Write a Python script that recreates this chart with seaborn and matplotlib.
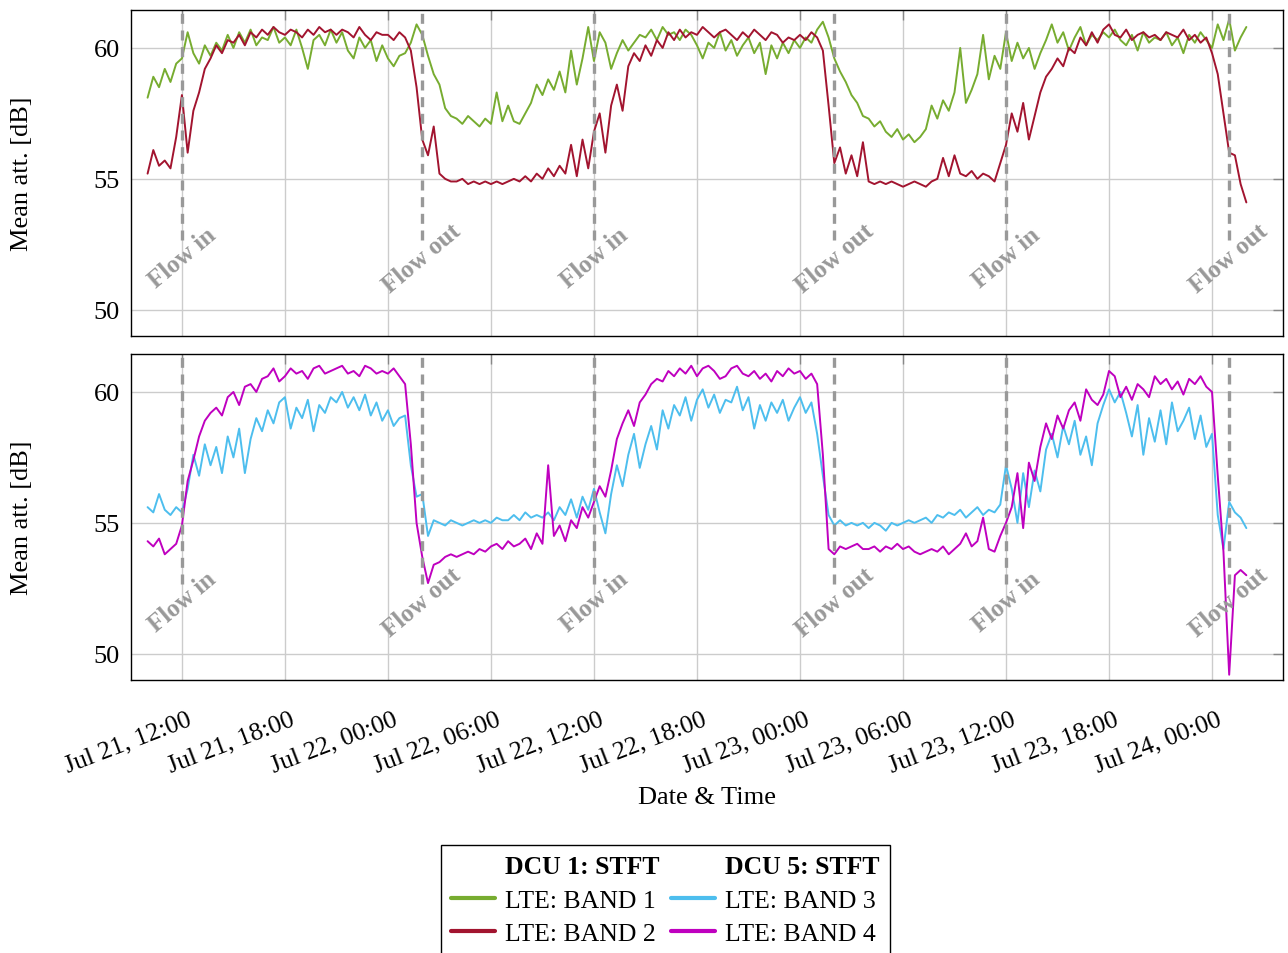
import pandas as pd
import matplotlib.pyplot as plt
import matplotlib.dates as mdates
import matplotlib.transforms as mtransforms
from matplotlib.lines import Line2D
import seaborn as sns

# time axis: one sample every 20 min, Jul 21 10:00 -> Jul 24 02:00
start = '2023-07-21 10:00'
step = '20min'

# DCU 1 (top panel), 3 per hour
band1 = [
    58.1, 58.9, 58.5, 59.2, 58.7, 59.4, 59.6, 60.6, 59.8, 59.4, 60.1, 59.7,  # Jul 21 10-13
    60.2, 59.9, 60.5, 60.0, 60.6, 60.2, 60.7, 60.1, 60.4, 60.3, 60.8, 60.2,  # 14-17
    60.4, 60.1, 60.7, 60.0, 59.2, 60.3, 60.5, 60.1, 60.7, 60.2, 60.6, 59.9,  # 18-21
    59.6, 60.4, 60.0, 60.3, 59.5, 60.1, 59.6, 59.3, 59.7, 59.8, 60.2, 60.9,  # 22-Jul 22 01
    60.5, 59.7, 59.0, 58.6, 57.7, 57.4, 57.3, 57.1, 57.4, 57.2, 57.0, 57.3,  # 02-05
    57.1, 58.3, 57.2, 57.8, 57.2, 57.1, 57.5, 57.9, 58.6, 58.2, 58.8, 58.4,  # 06-09
    59.1, 58.3, 59.9, 58.6, 59.6, 60.8, 59.5, 60.6, 60.2, 59.2, 59.8, 60.3,  # 10-13
    59.9, 60.2, 60.5, 60.4, 60.7, 60.3, 60.8, 60.5, 60.6, 60.3, 60.7, 60.5,  # 14-17
    60.1, 59.6, 60.2, 60.0, 60.6, 59.9, 60.3, 59.7, 60.1, 60.4, 59.8, 60.2,  # 18-21
    59.0, 60.1, 59.6, 60.2, 59.8, 60.3, 60.0, 60.4, 60.2, 60.7, 61.0, 60.4,  # 22-Jul 23 01
    59.6, 59.1, 58.7, 58.2, 57.9, 57.4, 57.3, 57.0, 57.2, 56.8, 56.6, 56.9,  # 02-05
    56.5, 56.7, 56.4, 56.6, 56.9, 57.8, 57.3, 58.0, 57.6, 58.3, 60.0, 57.9,  # 06-09
    58.4, 59.0, 60.5, 58.8, 59.7, 59.2, 60.6, 59.5, 60.2, 59.6, 60.0, 59.2,  # 10-13
    59.8, 60.3, 60.9, 60.2, 60.6, 59.9, 60.4, 60.8, 60.1, 60.5, 60.3, 60.6,  # 14-17
    60.4, 60.7, 60.3, 60.1, 60.5, 59.9, 60.6, 60.2, 60.4, 60.3, 60.6, 60.1,  # 18-21
    60.4, 59.8, 60.5, 60.2, 60.6, 60.3, 60.0, 60.9, 60.3, 61.1, 59.9, 60.4,  # 22-Jul 24 01
    60.8,
]
band2 = [
    55.2, 56.1, 55.5, 55.7, 55.4, 56.6, 58.2, 56.0, 57.6, 58.3, 59.2, 59.6,
    60.1, 59.8, 60.3, 60.2, 60.5, 60.1, 60.6, 60.4, 60.7, 60.5, 60.8, 60.6,
    60.5, 60.7, 60.6, 60.4, 60.7, 60.5, 60.8, 60.6, 60.7, 60.5, 60.7, 60.6,
    60.4, 60.8, 60.5, 60.3, 60.6, 60.5, 60.5, 60.3, 60.6, 60.4, 59.9, 58.5,
    56.5, 55.9, 57.0, 55.2, 55.0, 54.9, 54.9, 55.0, 54.8, 54.9, 54.8, 54.9,
    54.8, 54.9, 54.8, 54.9, 55.0, 54.9, 55.1, 54.9, 55.2, 55.0, 55.4, 55.1,
    55.5, 55.2, 56.3, 55.1, 56.5, 55.4, 56.8, 57.5, 56.0, 57.8, 58.6, 57.6,
    59.3, 59.8, 59.5, 60.1, 59.7, 60.3, 60.0, 60.6, 60.3, 60.7, 60.4, 60.6,
    60.5, 60.8, 60.6, 60.4, 60.6, 60.7, 60.5, 60.3, 60.6, 60.4, 60.7, 60.5,
    60.3, 60.6, 60.5, 60.2, 60.4, 60.3, 60.5, 60.3, 60.6, 60.4, 59.9, 57.8,
    55.6, 56.2, 55.2, 55.9, 55.1, 56.4, 54.9, 54.8, 54.9, 54.8, 54.9, 54.8,
    54.7, 54.8, 54.9, 54.8, 54.7, 54.9, 55.0, 55.8, 55.1, 55.9, 55.2, 55.1,
    55.3, 55.0, 55.2, 55.1, 54.9, 55.6, 56.3, 57.5, 56.8, 57.9, 56.5, 57.4,
    58.3, 58.9, 59.2, 59.6, 59.3, 60.0, 59.8, 60.4, 60.1, 60.6, 60.2, 60.7,
    60.9, 60.5, 60.4, 60.7, 60.3, 60.5, 60.6, 60.4, 60.5, 60.3, 60.6, 60.5,
    60.4, 60.7, 60.3, 60.5, 60.2, 60.4, 59.8, 59.0, 57.5, 56.0, 55.9, 54.8,
    54.1,
]

# DCU 5 (bottom panel)
band3 = [
    55.6, 55.4, 56.1, 55.5, 55.3, 55.6, 55.4, 56.3, 57.6, 56.8, 58.0, 57.2,
    57.9, 56.9, 58.3, 57.5, 58.6, 56.9, 58.2, 59.0, 58.5, 59.3, 58.8, 59.6,
    59.8, 58.6, 59.4, 59.0, 59.7, 58.5, 59.5, 59.2, 59.8, 59.6, 60.0, 59.4,
    59.8, 59.3, 59.9, 59.1, 59.6, 58.9, 59.3, 58.7, 59.0, 59.1, 57.2, 56.0,
    56.1, 54.5, 55.1, 55.0, 54.9, 55.1, 55.0, 54.9, 55.0, 55.1, 55.0, 55.1,
    55.0, 55.2, 55.1, 55.1, 55.3, 55.1, 55.4, 55.2, 55.3, 55.2, 55.4, 55.1,
    55.6, 55.3, 55.9, 55.2, 56.0, 55.5, 56.3, 55.4, 54.6, 56.1, 57.2, 56.4,
    57.6, 58.4, 57.1, 58.0, 58.7, 57.8, 59.3, 58.6, 59.5, 59.1, 59.8, 58.9,
    59.7, 60.1, 59.4, 59.9, 59.2, 59.7, 59.6, 60.2, 59.3, 59.8, 58.6, 59.5,
    58.9, 59.6, 59.2, 59.7, 58.9, 59.4, 59.8, 59.2, 59.6, 58.4, 56.8, 55.3,
    54.9, 55.1, 54.9, 55.0, 54.9, 55.0, 54.8, 55.0, 54.9, 54.7, 55.0, 54.9,
    55.0, 55.1, 55.0, 55.1, 55.2, 55.0, 55.3, 55.2, 55.4, 55.3, 55.5, 55.2,
    55.4, 55.6, 55.3, 55.5, 55.4, 55.7, 57.2, 56.3, 55.0, 56.9, 55.6, 57.0,
    56.2, 57.8, 58.4, 57.5, 58.7, 58.0, 58.9, 57.6, 58.3, 57.2, 58.8, 59.5,
    60.1, 59.6, 60.0, 59.2, 58.3, 59.5, 57.6, 59.0, 58.1, 59.3, 58.0, 59.6,
    58.5, 58.9, 59.4, 58.2, 59.1, 57.9, 58.4, 55.3, 54.0, 55.8, 55.4, 55.2,
    54.8,
]
band4 = [
    54.3, 54.1, 54.4, 53.8, 54.0, 54.2, 54.9, 56.6, 57.4, 58.3, 58.9, 59.2,
    59.4, 59.1, 59.8, 60.0, 59.5, 60.2, 60.3, 60.0, 60.5, 60.6, 60.9, 60.4,
    60.6, 60.9, 60.7, 60.8, 60.5, 60.9, 61.0, 60.7, 60.8, 60.9, 61.0, 60.7,
    60.8, 60.6, 61.0, 60.9, 60.7, 60.8, 60.7, 60.9, 60.6, 60.3, 58.0, 55.0,
    53.7, 52.7, 53.4, 53.5, 53.7, 53.8, 53.7, 53.8, 53.9, 53.8, 54.0, 53.9,
    54.1, 54.2, 54.0, 54.3, 54.1, 54.2, 54.4, 54.0, 54.6, 54.2, 57.2, 54.5,
    54.9, 54.3, 55.1, 54.8, 55.6, 55.2, 55.8, 56.4, 56.0, 57.0, 58.2, 58.8,
    59.3, 58.7, 59.6, 59.9, 60.3, 60.5, 60.4, 60.8, 60.6, 60.9, 60.7, 61.0,
    60.6, 60.9, 61.0, 60.8, 60.5, 60.6, 60.9, 61.0, 60.7, 60.6, 60.8, 60.5,
    60.7, 60.4, 60.8, 60.6, 60.9, 60.7, 60.8, 60.5, 60.7, 60.3, 57.6, 54.0,
    53.8, 54.1, 54.0, 54.1, 54.2, 54.0, 54.0, 54.1, 53.9, 54.1, 54.0, 54.2,
    54.0, 54.1, 53.9, 53.8, 53.9, 54.0, 53.9, 54.1, 53.8, 54.0, 54.2, 54.6,
    54.1, 54.3, 55.2, 54.0, 53.9, 54.5, 55.0, 55.6, 56.9, 54.8, 57.3, 56.6,
    57.9, 58.8, 58.2, 59.1, 58.6, 59.3, 59.6, 58.9, 60.1, 59.7, 59.5, 59.9,
    60.8, 60.6, 59.8, 60.2, 59.7, 60.3, 60.1, 59.8, 60.6, 60.3, 60.5, 60.1,
    60.4, 59.9, 60.5, 60.3, 60.6, 60.2, 60.0, 56.8, 53.9, 49.2, 53.0, 53.2,
    53.0,
]

labels = ['LTE: BAND 1', 'LTE: BAND 2', 'LTE: BAND 3', 'LTE: BAND 4']
colors = ['#77AC30', '#A2142F', '#4DBEEE', '#BF00BF']

flow_in = ['2023-07-21 12:00', '2023-07-22 12:00', '2023-07-23 12:00']
flow_out = ['2023-07-22 02:00', '2023-07-23 02:00', '2023-07-24 01:00']

times = pd.date_range(start, periods=len(band1), freq=step)
df = pd.DataFrame({'time': times, labels[0]: band1, labels[1]: band2,
                   labels[2]: band3, labels[3]: band4})

sns.set_style('white')
plt.rcParams['font.family'] = ['Liberation Serif', 'DejaVu Serif']
plt.rcParams['text.color'] = 'black'
plt.rcParams['axes.labelcolor'] = 'black'

fig = plt.figure(figsize=(12.88, 9.54), dpi=100)
ax1 = fig.add_axes([0.1017, 0.6468, 0.8944, 0.3417])
ax2 = fig.add_axes([0.1017, 0.2862, 0.8944, 0.3417], sharex=ax1)

for ax, cols in [(ax1, [0, 1]), (ax2, [2, 3])]:
    for i in cols:
        sns.lineplot(data=df, x='time', y=labels[i], ax=ax, color=colors[i],
                     linewidth=1.4, zorder=2)

    for t in flow_in + flow_out:
        ax.axvline(pd.Timestamp(t), ymin=0.295, ymax=1, color='#999999',
                   linewidth=2.4, linestyle=(0, (3, 2)), zorder=3)
    for t in flow_in:
        ax.text(pd.Timestamp(t), 52.0, 'Flow in', rotation=40, ha='center',
                va='center', color='#999999', fontweight='bold', fontsize=18, zorder=4)
    for t in flow_out:
        ax.text(pd.Timestamp(t), 52.0, 'Flow out', rotation=40, ha='center',
                va='center', color='#999999', fontweight='bold', fontsize=18, zorder=4)

    ax.set_ylim(49.0, 61.45)
    ax.set_yticks([50, 55, 60])
    ax.grid(True, color='#cccccc', linewidth=1)
    ax.set_axisbelow(True)
    for s in ax.spines.values():
        s.set_color('black')
        s.set_linewidth(1)
    ax.tick_params(direction='in', top=True, right=True, length=7, width=1,
                   color='#888888', labelcolor='black', labelsize=19)
    ax.tick_params(axis='y', pad=8)
    ax.set_ylabel('Mean att. [dB]', fontsize=19, color='black')
    ax.yaxis.set_label_coords(-0.085, 0.5)
    ax.set_xlabel('')

ax1.set_xlim(pd.Timestamp('2023-07-21 09:02'), pd.Timestamp('2023-07-24 04:08'))
ax1.xaxis.set_major_locator(mdates.HourLocator(byhour=[0, 6, 12, 18]))
ax1.xaxis.set_major_formatter(mdates.DateFormatter('%b %d, %H:%M'))
ax1.tick_params(axis='x', labelbottom=False)

ax2.tick_params(axis='x', labelsize=18.5, pad=20)
shift = mtransforms.ScaledTranslation(5 / 100, 0, fig.dpi_scale_trans)
for lab in ax2.get_xticklabels():
    lab.set_rotation(21)
    lab.set_ha('right')
    lab.set_va('top')
    lab.set_rotation_mode('anchor')
    lab.set_transform(lab.get_transform() + shift)
ax2.set_xlabel('Date & Time', fontsize=19, color='black')
ax2.xaxis.set_label_coords(0.5, -0.326)

# legend: two columns with a bold header each
blank = Line2D([], [], color='none')
handles = [blank,
           Line2D([], [], color=colors[0], linewidth=3),
           Line2D([], [], color=colors[1], linewidth=3),
           blank,
           Line2D([], [], color=colors[2], linewidth=3),
           Line2D([], [], color=colors[3], linewidth=3)]
names = ['DCU 1: STFT', labels[0], labels[1], 'DCU 5: STFT', labels[2], labels[3]]
leg = fig.legend(handles, names, ncol=2, loc='upper center',
                 bbox_to_anchor=(0.5167, 0.1132), fontsize=18.5, frameon=True,
                 fancybox=False, edgecolor='black', framealpha=1,
                 handlelength=1.7, handletextpad=0.4, columnspacing=0.45,
                 borderpad=0.4, labelspacing=0.4, borderaxespad=0)
leg.get_frame().set_linewidth(1)
for txt in leg.get_texts():
    txt.set_color('black')
    if 'DCU' in txt.get_text():
        txt.set_fontweight('bold')

plt.savefig('out.png', dpi=100)
